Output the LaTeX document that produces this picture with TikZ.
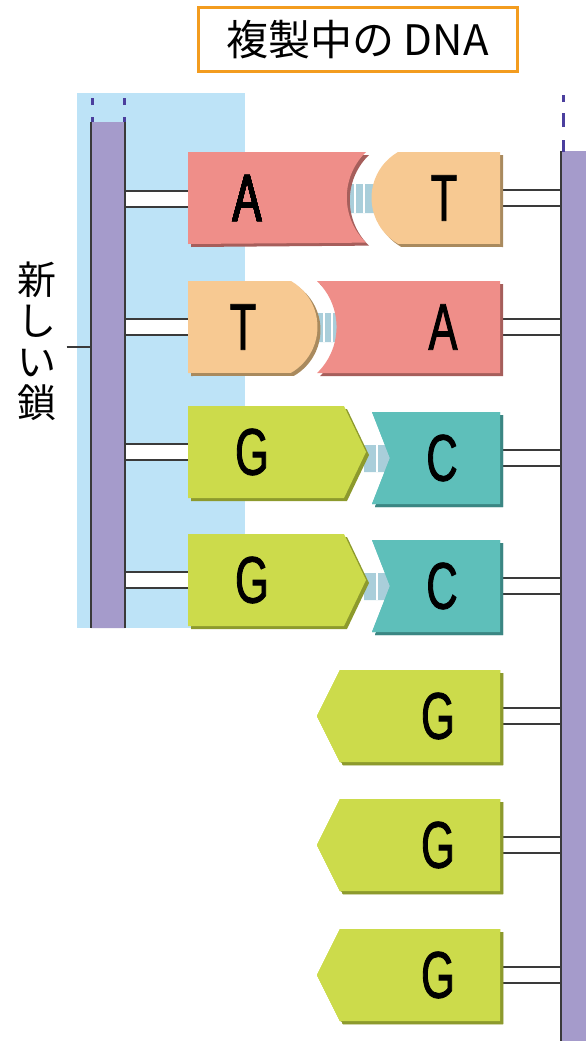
\documentclass[tikz,border=0pt]{standalone}
\usepackage{graphicx, color}
\usepackage{fontspec}
\usepackage{tikz}
\newfontfamily\cjk{Noto Sans CJK JP}
\newfontfamily\basefont[FakeStretch=0.66, FakeBold=1.3]{Liberation Sans}
\definecolor{pale}{HTML}{BDE3F7}
\definecolor{strandc}{HTML}{A59BCB}
\definecolor{edgec}{HTML}{3A3A3A}
\definecolor{dashc}{HTML}{4B3F9E}
\definecolor{redc}{HTML}{EF8E89}
\definecolor{redsh}{HTML}{A65E5B}
\definecolor{orgc}{HTML}{F7C992}
\definecolor{orgsh}{HTML}{A98A5E}
\definecolor{grnc}{HTML}{CCDB4B}
\definecolor{grnsh}{HTML}{8D9A2D}
\definecolor{tealc}{HTML}{5EBFBA}
\definecolor{tealsh}{HTML}{3B8683}
\definecolor{hbc}{HTML}{A9CEDA}
\definecolor{framec}{HTML}{F39C1F}
\tikzset{
  rung/.style={fill=white, draw=edgec, line width=1.3pt},
  edge/.style={draw=edgec, line width=1.4pt},
  tick/.style={draw=dashc, line width=3pt},
  stripe/.style={draw=white, line width=1.5pt},
  letter/.style={font=\basefont\fontsize{66}{66}\selectfont, inner sep=0pt},
  titlebox/.style={draw=framec, line width=3pt, fill=white, inner sep=0pt,
    minimum width=319pt, minimum height=64pt, font=\cjk\fontsize{42}{42}\selectfont},
  lbl/.style={align=center, inner ysep=0pt, inner xsep=10pt,
    font=\cjk\fontsize{39}{41}\selectfont}
}
\newcommand{\blk}[3]{\fill[#2, shift={(3,3)}] #3; \fill[#1] #3;}

\begin{document}
\begin{tikzpicture}[x=1pt, y=-1pt]
      \useasboundingbox (0,0) rectangle (586,1041);
      \fill [pale] (77,93) rectangle (245,628);
      \foreach \c in {199,327,452,580}
            \filldraw [rung] (125,\c-8) rectangle (190,\c+8);
      \foreach \c in {198,327,458,586,716,845,975}
            \filldraw [rung] (500,\c-8) rectangle (561,\c+8);
      \fill [strandc] (91,122) rectangle (125,628)
                      (561,151) rectangle (586,1041);
      \draw [edge] (91,122) -- (91,628) (125,122) -- (125,628)
                   (561,151) -- (561,1041);
      \draw [tick, dash pattern=on 5pt off 12pt on 7pt off 5pt]
            (92,122) -- (92,97) (124,122) -- (124,97);
      \draw [tick, dash pattern=on 12pt off 13pt on 14pt off 11pt on 7pt off 5pt]
            (563,152) -- (563,94);
      \fill [hbc] (345,184) rectangle (374,213)
                  (315,313) rectangle (340,342)
                  (364,445) rectangle (392,472)
                  (364,573) rectangle (392,600);
      \draw [stripe] (355,184) -- (355,213) (364,184) -- (364,213)
                     (324,313) -- (324,342) (332,313) -- (332,342)
                     (377,445) -- (377,472) (377,573) -- (377,600);
      \blk{redc}{redsh}{(188,152) -- (366,152) arc [start angle=226, end angle=134, radius=63] -- (188,244) -- cycle}
      \blk{orgc}{orgsh}{(500,152) -- (398,152) arc [start angle=240, end angle=120, radius=53] -- (500,244) -- cycle}
      \blk{orgc}{orgsh}{(188,281) -- (291,281) arc [start angle=-60, end angle=60, radius=53] -- (188,373) -- cycle}
      \blk{redc}{redsh}{(500,281) -- (317,281) arc [start angle=-46, end angle=46, radius=64] -- (500,373) -- cycle}
      \foreach \c in {452,580}
            \blk{grnc}{grnsh}{(188,\c-46) -- (344,\c-46) -- (366,\c) -- (344,\c+46) -- (188,\c+46) -- cycle}
      \foreach \c in {458,586}
            \blk{tealc}{tealsh}{(372,\c-46) -- (500,\c-46) -- (500,\c+46) -- (372,\c+46) -- (390,\c) -- cycle}
      \foreach \c in {716,845,975}
            \blk{grnc}{grnsh}{(340,\c-46) -- (500,\c-46) -- (500,\c+46) -- (340,\c+46) -- (317,\c) -- cycle}
      \node [letter] (a1) at (247,198) {A};
      \node [letter] (t1) at (444,198) {T};
      \node [letter] (t2) at (243,327) {T};
      \node [letter] (a2) at (443,327) {A};
      \node [letter] (g3) at (252,452) {G};
      \node [letter] (c3) at (442,458) {C};
      \node [letter] (g4) at (252,580) {G};
      \node [letter] (c4) at (442,586) {C};
      \foreach \c/\n in {716/g5,845/g6,975/g7}
            \node [letter] (\n) at (438,\c) {G};
      \node [titlebox] (title) at (357.5,40) {複製中の DNA};
      \node [lbl] (newlbl) at (37,341) {新\\し\\い\\鎖};
      \draw [edge] ([yshift=-6pt]newlbl.east) -- (91,347);
\end{tikzpicture}
\end{document}
